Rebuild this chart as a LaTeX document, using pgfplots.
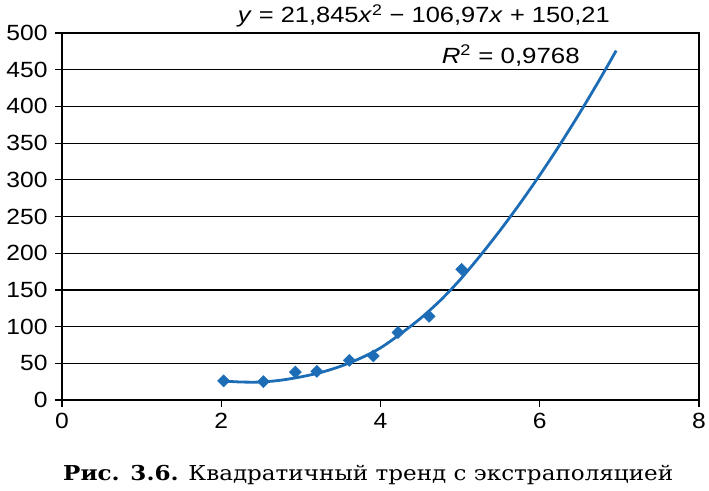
\documentclass[border=0pt]{standalone}
\usepackage{fontspec}
\usepackage{graphicx}
\setmainfont{Liberation Sans}
\newfontfamily\tickfont[FakeStretch=1.12]{Liberation Sans}
\newfontfamily\capfont{DejaVu Serif}
\usepackage{pgfplots}
\pgfplotsset{compat=1.18}
\definecolor{trendblue}{RGB}{28,108,182}
\begin{document}
\begin{tikzpicture}[x=1pt,y=1pt]
\path[use as bounding box] (-62,-90) rectangle (647,400);
\begin{axis}[
  at={(0,0)}, anchor=origin,
  scale only axis,
  width=637pt, height=367pt,
  xmin=0, xmax=8, ymin=0, ymax=500,
  xtick={0,2,4,6,8}, ytick={0,50,...,500},
  xtick pos=bottom, ytick pos=left,
  tick align=outside, major tick length=7pt,
  ymajorgrids=true,
  grid style={black, line width=1.2pt},
  axis line style={black, line width=1.3pt},
  tick style={black, line width=1.2pt},
  /pgf/number format/assume math mode=true,
  tick label style={font=\tickfont\fontsize{22}{24}\selectfont},
  yticklabel style={xshift=-4pt},
  xticklabel style={yshift=-3pt},
  clip=false,
]
\addplot[trendblue, line width=2.8pt, smooth] coordinates {
(2.0,26) (2.25,24.5) (2.5,24.5) (2.75,27) (3.0,31.5) (3.25,37.5) (3.5,46)
(3.75,57) (4.0,71) (4.25,90) (4.5,111) (4.75,135.5) (5.0,164) (5.25,196.3)
(5.5,230.8) (5.75,267.5) (6.0,306.4) (6.25,347.4) (6.5,390.7) (6.75,436.2) (6.96,476)};
\addplot[only marks, mark=square*, mark size=4.3pt, mark options={rotate=45}, color=trendblue, fill=trendblue] coordinates {
(2.03,26) (2.53,25) (2.93,38) (3.20,39) (3.61,54) (3.91,60) (4.22,92) (4.61,114) (5.02,178)};
\end{axis}
\node[anchor=base east, inner sep=0pt, font=\fontsize{22}{24}\selectfont] at (548,377)
  {\resizebox{372pt}{\height}{\textit{y} = 21,845\textit{x}\textsuperscript{2} − 106,97\textit{x} + 150,21}};
\node[anchor=base east, inner sep=0pt, font=\fontsize{22}{24}\selectfont] at (518,336.5)
  {\resizebox{138pt}{\height}{\textit{R}\textsuperscript{2} = 0,9768}};
\node[anchor=base west, inner sep=0pt, font=\capfont\fontsize{20.5}{24}\selectfont] at (1,-80)
  {\resizebox{610pt}{\height}{\textbf{Рис. 3.6.} Квадратичный тренд с экстраполяцией}};
\end{tikzpicture}
\end{document}
